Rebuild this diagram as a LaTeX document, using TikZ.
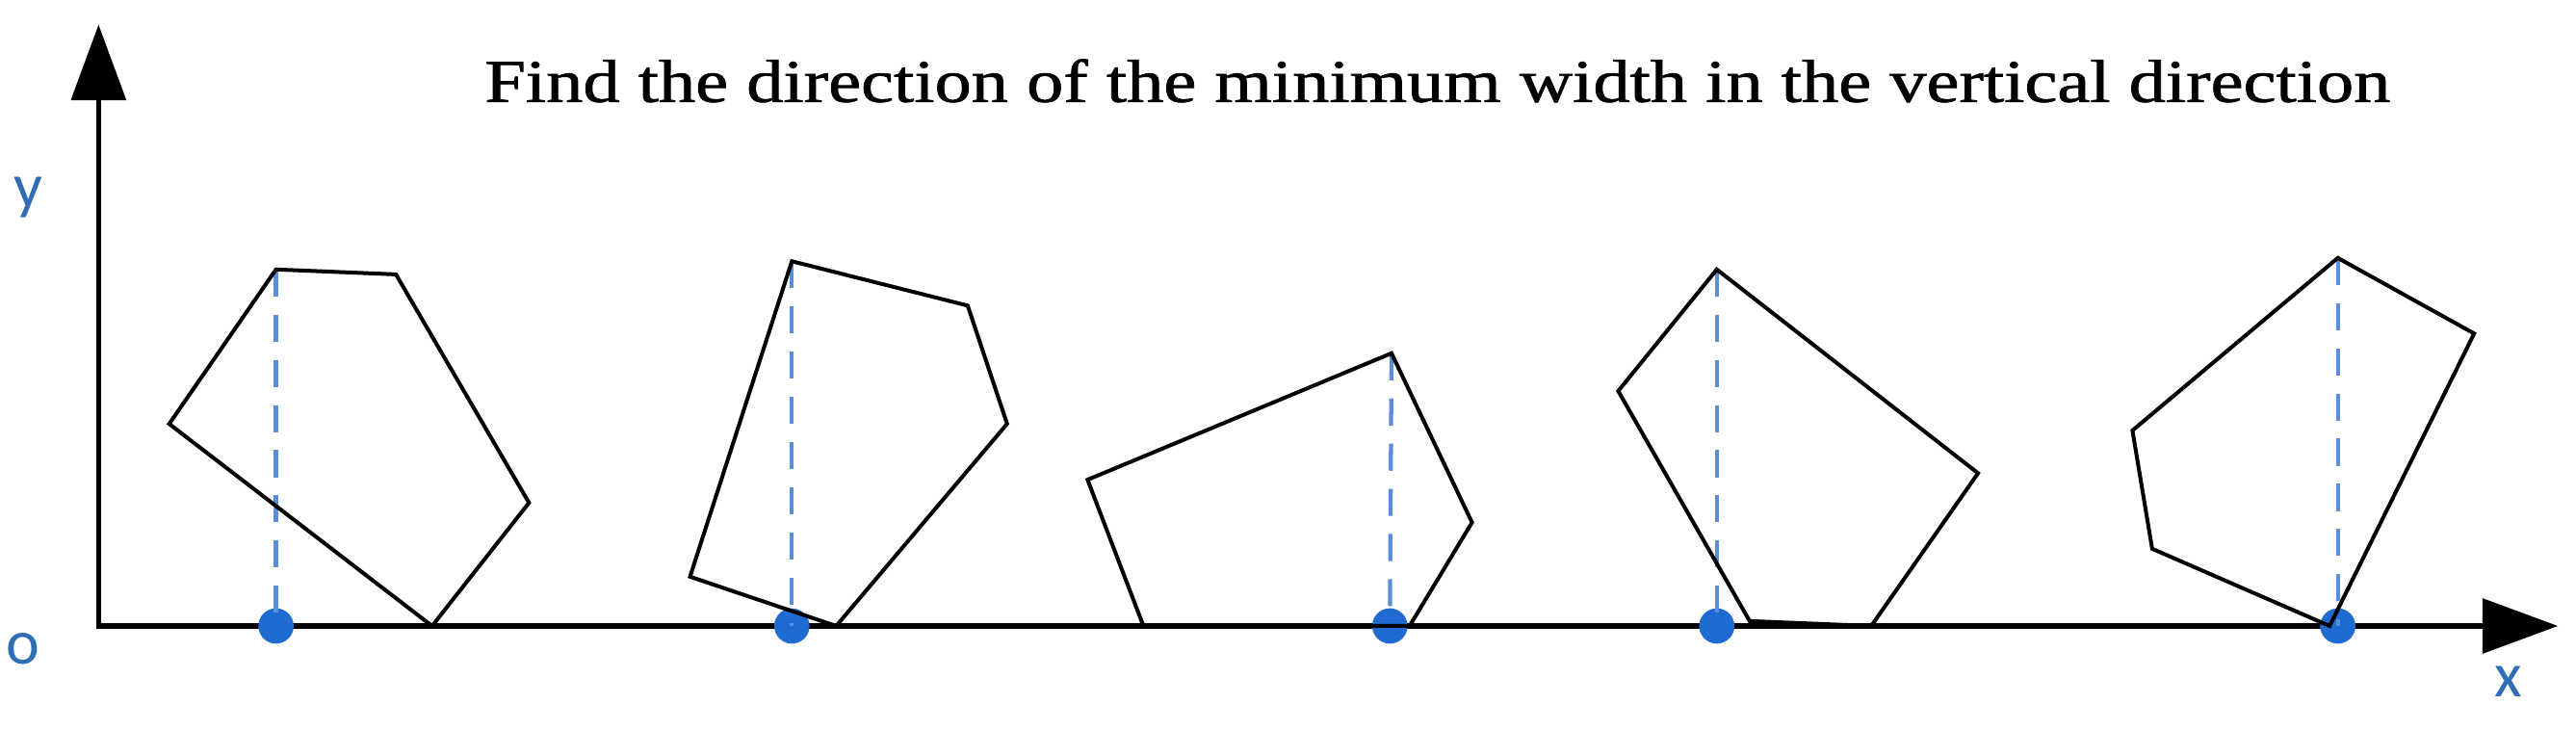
\documentclass[tikz,border=0pt]{standalone}
\usepackage{fontspec}
\usepackage{graphicx}
\newfontfamily\lblfont{Carlito}
\newfontfamily\titlefont{Liberation Serif}[FakeBold=1]
\usetikzlibrary{arrows.meta}
\definecolor{dotblue}{HTML}{1F6BD1}
\definecolor{dashblue}{HTML}{5A8ED6}
\definecolor{lblblue}{HTML}{2F6DB5}
\begin{document}
\begin{tikzpicture}[x=0.02cm,y=0.02cm,
  axis/.style={line width=0.065cm, line join=miter, {Triangle[length=0.92cm,width=0.66cm]}-{Triangle[length=0.92cm,width=0.66cm]}},
  poly/.style={line width=0.047cm, line join=miter},
  proj/.style={dashblue, line width=0.05cm, dash pattern=on 0.33cm off 0.22cm},
  foot/.style={circle, fill=dotblue, inner sep=0pt, minimum size=0.43cm},
  lbl/.style={lblblue, font=\lblfont\fontsize{22}{22}\selectfont, inner sep=0pt}]
\useasboundingbox (0,0) rectangle (1568,444);
% axes
\coordinate (ytip) at (60,429);
\coordinate (O) at (60,63);
\coordinate (xtip) at (1557,63);
\draw[axis] (ytip) -- (O) -- (xtip);
\node[lbl] (ylbl) at (17,324) {y};
\node[lbl] (olbl) at (14,49) {o};
\node[lbl] (xlbl) at (1527,29) {x};
% title
\node[anchor=base, inner sep=0pt] (title) at (875,382) {\resizebox{23.2cm}{0.52cm}{\titlefont Find the direction of the minimum width in the vertical direction}};
% polygon 1
\coordinate (a1) at (168,280); \coordinate (a2) at (241,277); \coordinate (a3) at (322,138);
\coordinate (a4) at (263,63); \coordinate (a5) at (103,186);
\node[foot] (d1) at (168,63) {};
\draw[proj] (a1) -- (d1.center);
\draw[poly] (a1) -- (a2) -- (a3) -- (a4) -- (a5) -- cycle;
% polygon 2
\coordinate (b1) at (482,285); \coordinate (b2) at (589,258); \coordinate (b3) at (613,186);
\coordinate (b4) at (509,63); \coordinate (b5) at (420,93);
\node[foot] (d2) at (482,63) {};
\draw[proj] (b1) -- (d2.center);
\draw[poly] (b1) -- (b2) -- (b3) -- (b4) -- (b5) -- cycle;
% polygon 3
\coordinate (c1) at (662,152); \coordinate (c2) at (847,229); \coordinate (c3) at (896,126);
\coordinate (c4) at (858,63); \coordinate (c5) at (696,63);
\node[foot] (d3) at (846,63) {};
\draw[proj] (c2) -- (d3.center);
\draw[poly] (c1) -- (c2) -- (c3) -- (c4) -- (c5) -- cycle;
% polygon 4
\coordinate (e1) at (1045,280); \coordinate (e2) at (1204,156); \coordinate (e3) at (1139,63);
\coordinate (e4) at (1065,66); \coordinate (e5) at (985,206);
\node[foot] (d4) at (1045,63) {};
\draw[proj] (e1) -- (d4.center);
\draw[poly] (e1) -- (e2) -- (e3) -- (e4) -- (e5) -- cycle;
% polygon 5
\coordinate (f1) at (1423,287); \coordinate (f2) at (1506,241); \coordinate (f3) at (1418,63);
\coordinate (f4) at (1310,110); \coordinate (f5) at (1298,182);
\node[foot] (d5) at (1423,63) {};
\draw[proj] (f1) -- (d5.center);
\draw[poly] (f1) -- (f2) -- (f3) -- (f4) -- (f5) -- cycle;
\end{tikzpicture}
\end{document}
